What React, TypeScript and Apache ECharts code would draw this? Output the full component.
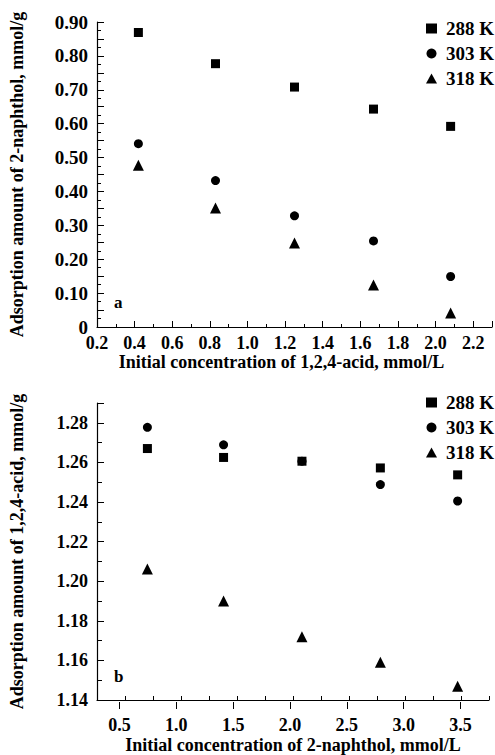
import React, { useEffect, useRef } from "react";
import * as echarts from "echarts";

const seriesNames = ["288 K", "303 K", "318 K"];
const symbols = ["rect", "circle", "triangle"];

// Panel a: adsorption of 2-naphthol vs initial concentration of 1,2,4-acid
const xA = [0.42, 0.83, 1.25, 1.67, 2.08];
const a288 = [0.869, 0.777, 0.708, 0.643, 0.592];
const a303 = [0.541, 0.432, 0.328, 0.254, 0.149];
const a318 = [0.477, 0.351, 0.248, 0.124, 0.041];

// Panel b: adsorption of 1,2,4-acid vs initial concentration of 2-naphthol
const xB = [0.7, 1.38, 2.08, 2.78, 3.47];
const b288 = [1.267, 1.2625, 1.2606, 1.2572, 1.2537];
const b303 = [1.2777, 1.2689, 1.2606, 1.2488, 1.2405];
const b318 = [1.2062, 1.19, 1.1719, 1.1591, 1.1469];

const FONT = "Liberation Serif, Times New Roman, serif";

const W = 495;
const H = 755;

export default function App() {
  const ref = useRef<HTMLDivElement>(null);
  useEffect(() => {
    if (!ref.current) return;
    const chart = echarts.init(ref.current, undefined, { renderer: "svg" });

    const txt = { fontFamily: FONT, fontWeight: "bold" as const, color: "#000" };

    // bottom panel geometry
    const bLeft = 91;
    const bRight = 6;
    const bMin = 0.25;
    const bMax = 3.75;
    const labMin = 0.5;
    const labMax = 3.5;
    const bWidth = W - bLeft - bRight;
    const pxPer = bWidth / (bMax - bMin);
    const subLeft = bLeft + (labMin - bMin) * pxPer;
    const subRight = W - (bLeft + (labMax - bMin) * pxPer);

    const axisLine = { show: true, lineStyle: { color: "#000", width: 1.2 } };
    const splitLine = { show: false };

    const mkSeries = (
      name: string,
      sym: string,
      xs: number[],
      ys: number[],
      xi: number,
      yi: number,
      size: number,
      z: number
    ) => ({
      type: "scatter",
      name,
      symbol: sym,
      symbolSize: size,
      xAxisIndex: xi,
      yAxisIndex: yi,
      z,
      itemStyle: { color: "#000", opacity: 1 },
      data: xs.map((x, i) => [x, ys[i]]),
    });

    const legendBase = {
      data: seriesNames,
      orient: "vertical" as const,
      itemWidth: 11,
      itemHeight: 10,
      itemGap: 6,
      textStyle: { ...txt, fontSize: 19, lineHeight: 17, padding: [0, 0, 0, 4] },
      selectedMode: false,
    };

    const option: any = {
      animation: false,
      backgroundColor: "#fff",
      textStyle: { fontFamily: FONT },
      grid: [
        { left: 92, right: 3, top: 22, bottom: H - 327 },
        { left: bLeft, right: bRight, top: 403, bottom: H - 709 },
        { left: subLeft, right: subRight, top: 403, bottom: H - 709 },
      ],
      legend: [
        { ...legendBase, left: 421, top: 14 },
        { ...legendBase, left: 421, top: 388 },
      ],
      xAxis: [
        {
          type: "value",
          gridIndex: 0,
          min: 0.2,
          max: 2.3,
          interval: 0.2,
          axisLine,
          splitLine,
          axisTick: { show: true, inside: true, length: 6, lineStyle: { color: "#000" } },
          minorTick: { show: true, splitNumber: 2, length: 3, lineStyle: { color: "#000" } },
          axisLabel: {
            ...txt,
            fontSize: 18,
            margin: 7,
            showMaxLabel: false,
            formatter: (v: number) => v.toFixed(1),
          },
          name: "Initial concentration of 1,2,4-acid, mmol/L",
          nameLocation: "middle",
          nameGap: 25,
          nameTextStyle: { ...txt, fontSize: 18, padding: [0, 26, 0, 0] },
        },
        {
          type: "value",
          gridIndex: 1,
          min: bMin,
          max: bMax,
          interval: 0.25,
          axisLine,
          splitLine,
          axisTick: { show: true, inside: true, length: 4, lineStyle: { color: "#000" } },
          axisLabel: { show: false },
          name: "Initial concentration of 2-naphthol, mmol/L",
          nameLocation: "middle",
          nameGap: 36,
          nameTextStyle: { ...txt, fontSize: 18 },
        },
        {
          type: "value",
          gridIndex: 2,
          min: labMin,
          max: labMax,
          interval: 0.5,
          axisLine: { show: false },
          splitLine,
          axisTick: { show: true, inside: true, length: 7, lineStyle: { color: "#000" } },
          axisLabel: {
            ...txt,
            fontSize: 18,
            margin: 7,
            formatter: (v: number) => v.toFixed(1),
          },
        },
      ],
      yAxis: [
        {
          type: "value",
          gridIndex: 0,
          min: 0,
          max: 0.9,
          interval: 0.05,
          axisLine,
          splitLine,
          axisTick: { show: true, inside: true, length: 7, lineStyle: { color: "#000" } },
          minorTick: { show: true, splitNumber: 2, length: 4, lineStyle: { color: "#000" } },
          axisLabel: {
            ...txt,
            fontSize: 19,
            margin: 9,
            formatter: (v: number) => {
              const r = Math.round(v * 10);
              if (Math.abs(v * 10 - r) > 1e-6) return "";
              return r === 0 ? "0" : v.toFixed(2);
            },
          },
          name: "Adsorption amount of 2-naphthol, mmol/g",
          nameLocation: "middle",
          nameGap: 71,
          nameTextStyle: { ...txt, fontSize: 18 },
        },
        {
          type: "value",
          gridIndex: 1,
          min: 1.14,
          max: 1.29,
          interval: 0.02,
          axisLine,
          splitLine,
          axisTick: { show: true, inside: true, length: 7, lineStyle: { color: "#000" } },
          minorTick: { show: true, splitNumber: 2, length: 5, lineStyle: { color: "#000" } },
          axisLabel: {
            ...txt,
            fontSize: 18,
            margin: 9,
            showMaxLabel: false,
            formatter: (v: number) => v.toFixed(2),
          },
          name: "Adsorption amount of 1,2,4-acid, mmol/g",
          nameLocation: "middle",
          nameGap: 71,
          nameTextStyle: { ...txt, fontSize: 18 },
        },
        {
          type: "value",
          gridIndex: 2,
          min: 0,
          max: 1,
          show: false,
        },
      ],
      series: [
        mkSeries(seriesNames[0], symbols[0], xA, a288, 0, 0, 9, 4),
        mkSeries(seriesNames[1], symbols[1], xA, a303, 0, 0, 9, 3),
        mkSeries(seriesNames[2], symbols[2], xA, a318, 0, 0, 11, 3),
        mkSeries(seriesNames[0], symbols[0], xB, b288, 1, 1, 9, 4),
        mkSeries(seriesNames[1], symbols[1], xB, b303, 1, 1, 9, 3),
        mkSeries(seriesNames[2], symbols[2], xB, b318, 1, 1, 11, 3),
      ],
      graphic: [
        { type: "text", left: 114, top: 294, style: { text: "a", font: `bold 17px ${FONT}`, fill: "#000" } },
        { type: "text", left: 114, top: 668, style: { text: "b", font: `bold 17px ${FONT}`, fill: "#000" } },
      ],
    };

    chart.setOption(option);
    return () => chart.dispose();
  }, []);

  return (
    <div
      ref={ref}
      style={{ position: "absolute", left: 0, top: 0, width: W, height: H, background: "#fff" }}
    />
  );
}
